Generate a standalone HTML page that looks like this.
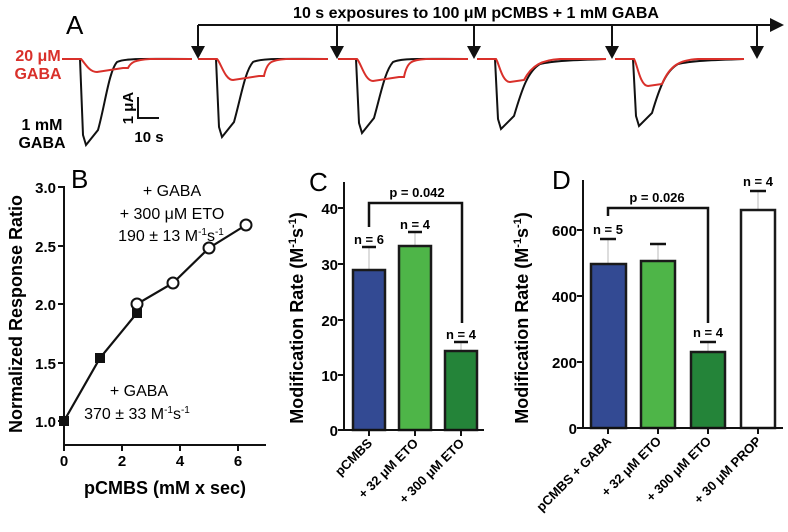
<!DOCTYPE html>
<html><head><meta charset="utf-8"><style>
body{margin:0;background:#fff}
svg{display:block;font-family:"Liberation Sans",Arial,sans-serif}
.b{font-weight:bold}
</style></head><body>
<svg id="s" width="788" height="532" viewBox="0 0 788 532" xmlns="http://www.w3.org/2000/svg">
<g id="traces" fill="none" stroke-width="2"></g>
<text x="66" y="34" font-size="26">A</text>
<text x="38" y="61" font-size="16" class="b" fill="#d9302a" text-anchor="middle">20 μM</text>
<text x="38" y="79" font-size="16" class="b" fill="#d9302a" text-anchor="middle">GABA</text>
<text x="42" y="130" font-size="16" class="b" text-anchor="middle">1 mM</text>
<text x="42" y="148" font-size="16" class="b" text-anchor="middle">GABA</text>
<path d="M138 97 V118 H159" stroke="#111" stroke-width="2" fill="none"/>
<text transform="translate(133,108) rotate(-90)" font-size="15" class="b" text-anchor="middle">1 μA</text>
<text x="149" y="142" font-size="15" class="b" text-anchor="middle">10 s</text>
<text x="476" y="18" font-size="16" class="b" text-anchor="middle">10 s exposures to 100 μM pCMBS + 1 mM GABA</text>
<g stroke="#111" stroke-width="2" fill="none"><path d="M198 25 H772"/>
<path d="M198 25V50M337 25V50M474 25V50M612 25V50M757 25V50"/></g>
<g fill="#111"><path d="M770 18 L784 25 L770 32Z"/>
<path d="M191 46 L205 46 L198 59Z"/><path d="M330 46 L344 46 L337 59Z"/><path d="M467 46 L481 46 L474 59Z"/><path d="M605 46 L619 46 L612 59Z"/><path d="M750 46 L764 46 L757 59Z"/></g>

<!-- Panel B -->
<g stroke="#111" stroke-width="2" fill="none">
<path d="M64 186 V445 H266"/>
<path d="M58 187H64M58 246H64M58 304H64M58 363H64M58 421H64M64 445V451M122 445V451M180 445V451M238 445V451"/>
<path d="M64 421 L100 358 L137 313 L137 304 L173 283 L209 248 L246 225" stroke-width="2.2"/>
</g>
<g font-size="15" class="b" text-anchor="end"><text x="56" y="193">3.0</text><text x="56" y="252">2.5</text><text x="56" y="310">2.0</text><text x="56" y="369">1.5</text><text x="56" y="427">1.0</text></g>
<g font-size="15" class="b" text-anchor="middle"><text x="64" y="466">0</text><text x="122" y="466">2</text><text x="180" y="466">4</text><text x="238" y="466">6</text></g>
<text x="165" y="494" font-size="18" class="b" text-anchor="middle">pCMBS (mM x sec)</text>
<text transform="translate(22,314) rotate(-90)" font-size="18" class="b" text-anchor="middle">Normalized Response Ratio</text>
<text x="71" y="188" font-size="26">B</text>
<g fill="#111"><rect x="59" y="416" width="10" height="10"/><rect x="95" y="353" width="10" height="10"/><rect x="132" y="308" width="10" height="10"/></g>
<g fill="#fff" stroke="#111" stroke-width="2"><circle cx="137" cy="304" r="5.5"/><circle cx="173" cy="283" r="5.5"/><circle cx="209" cy="248" r="5.5"/><circle cx="246" cy="225" r="5.5"/></g>
<g font-size="16" text-anchor="middle"><text x="172" y="196">+ GABA</text><text x="172" y="219">+ 300 μM ETO</text><text x="171" y="241">190 ± 13 M<tspan font-size="10" dy="-6">-1</tspan><tspan dy="6">s</tspan><tspan font-size="10" dy="-6">-1</tspan></text>
<text x="139" y="396">+ GABA</text><text x="137" y="419">370 ± 33 M<tspan font-size="10" dy="-6">-1</tspan><tspan dy="6">s</tspan><tspan font-size="10" dy="-6">-1</tspan></text></g>

<!-- Panel C -->
<text x="309" y="191" font-size="26">C</text>
<text transform="translate(303,318) rotate(-90)" font-size="18" class="b" text-anchor="middle">Modification Rate (M<tspan font-size="11" dy="-7">-1</tspan><tspan dy="7">s</tspan><tspan font-size="11" dy="-7">-1</tspan><tspan dy="7">)</tspan></text>
<g font-size="15" class="b" text-anchor="end"><text x="338" y="214">40</text><text x="338" y="270">30</text><text x="338" y="326">20</text><text x="338" y="381">10</text><text x="338" y="436">0</text></g>
<g stroke="#bbb" stroke-width="1"><path d="M369 270V247M415 246V232M461 351V342"/></g>
<g stroke="#1a1a1a" stroke-width="2.5">
<rect x="353" y="270" width="32" height="160" fill="#334a93"/>
<rect x="399" y="246" width="32" height="184" fill="#4eb548"/>
<rect x="445" y="351" width="32" height="79" fill="#248439"/></g>
<g stroke="#111" stroke-width="2" fill="none"><path d="M344 182V430H484M338 208H344M338 264H344M338 320H344M338 375H344M338 430H344M369 430V436M415 430V436M461 430V436"/>
<path d="M362 247H376M408 232H422M454 342H468" stroke-width="2.5"/>
<path d="M369 227V203H462V323" stroke-width="2.5"/></g>
<g font-size="13" class="b" text-anchor="middle"><text x="369" y="244">n = 6</text><text x="415" y="229">n = 4</text><text x="461" y="339">n = 4</text><text x="417" y="197">p = 0.042</text></g>
<g font-size="13" class="b" text-anchor="end">
<text transform="translate(373,444) rotate(-45)">pCMBS</text>
<text transform="translate(419,444) rotate(-45)">+ 32 μM ETO</text>
<text transform="translate(465,444) rotate(-45)">+ 300 μM ETO</text></g>

<!-- Panel D -->
<text x="552" y="189" font-size="26">D</text>
<text transform="translate(528,318) rotate(-90)" font-size="18" class="b" text-anchor="middle">Modification Rate (M<tspan font-size="11" dy="-7">-1</tspan><tspan dy="7">s</tspan><tspan font-size="11" dy="-7">-1</tspan><tspan dy="7">)</tspan></text>
<g font-size="15" class="b" text-anchor="end"><text x="577" y="236">600</text><text x="577" y="302">400</text><text x="577" y="368">200</text><text x="577" y="434">0</text></g>
<g stroke="#bbb" stroke-width="1"><path d="M608 264V239M658 261V244M708 352V342M758 210V191"/></g>
<g stroke="#1a1a1a" stroke-width="2.5">
<rect x="591" y="264" width="35" height="164" fill="#334a93"/>
<rect x="641" y="261" width="34" height="167" fill="#4eb548"/>
<rect x="691" y="352" width="34" height="76" fill="#248439"/>
<rect x="741" y="210" width="34" height="218" fill="#fff"/></g>
<g stroke="#111" stroke-width="2" fill="none"><path d="M583 180V428H783M577 230H583M577 296H583M577 362H583M577 428H583M608 428V434M658 428V434M708 428V434M758 428V434"/>
<path d="M600 239H616M650 244H666M700 342H716M750 191H766" stroke-width="2.5"/>
<path d="M608 216V208H708V323" stroke-width="2.5"/></g>
<g font-size="13" class="b" text-anchor="middle"><text x="608" y="234">n = 5</text><text x="708" y="337">n = 4</text><text x="758" y="186">n = 4</text><text x="657" y="202">p = 0.026</text></g>
<g font-size="13" class="b" text-anchor="end">
<text transform="translate(612,442) rotate(-45)">pCMBS + GABA</text>
<text transform="translate(662,442) rotate(-45)">+ 32 μM ETO</text>
<text transform="translate(712,442) rotate(-45)">+ 300 μM ETO</text>
<text transform="translate(762,442) rotate(-45)">+ 30 μM PROP</text></g>
</svg>
<script>
(function(){
var g=document.getElementById('traces'),B=59;
function add(d,c){var p=document.createElementNS('http://www.w3.org/2000/svg','path');p.setAttribute('d',d);p.setAttribute('stroke',c);g.appendChild(p);}
var T=[[65,145,72,0],[201,137,80,0],[341,133,81,0],[480,129,82,1],[618,126,86,1]];
T.forEach(function(t){var x=t[0],P=t[1],R=t[2],late=t[3];
 var blk,red;
 if(!late){
  blk='M'+x+' '+B+' H'+(x+15)+' L'+(x+18)+' '+(P-10)+' L'+(x+21)+' '+P+' L'+(x+33)+' '+(P-15)+' C'+(x+40)+' '+(P-40)+' '+(x+44)+' '+(B+12)+' '+(x+52)+' '+(B+3)+' C'+(x+60)+' '+(B-1)+' '+(x+80)+' '+B+' '+(x+125)+' '+B;
  red='M'+(x-3)+' '+B+' H'+(x+16)+' C'+(x+20)+' '+(B+4)+' '+(x+24)+' '+R+' '+(x+32)+' '+R+' L'+(x+58)+' '+(R-4)+' L'+(x+63)+' '+(R-4)+' C'+(x+66)+' '+(B+3)+' '+(x+70)+' '+(B+1)+' '+(x+85)+' '+B+' H'+(x+127);
 }else{
  blk='M'+x+' '+B+' H'+(x+15)+' L'+(x+18)+' '+(P-10)+' L'+(x+21)+' '+P+' L'+(x+34)+' '+(P-13)+' C'+(x+42)+' '+(P-40)+' '+(x+48)+' '+(B+12)+' '+(x+60)+' '+(B+5)+' C'+(x+72)+' '+(B+2)+' '+(x+95)+' '+(B+1)+' '+(x+126)+' '+B;
  red='M'+(x-3)+' '+B+' H'+(x+16)+' C'+(x+19)+' '+(B+4)+' '+(x+22)+' '+R+' '+(x+30)+' '+R+' L'+(x+44)+' '+(R-2)+' C'+(x+52)+' '+(B+6)+' '+(x+62)+' '+(B+1)+' '+(x+80)+' '+B+' H'+(x+126);
 }
 add(blk,'#111');add(red,'#d9302a');
});
})();
</script>
</body></html>
